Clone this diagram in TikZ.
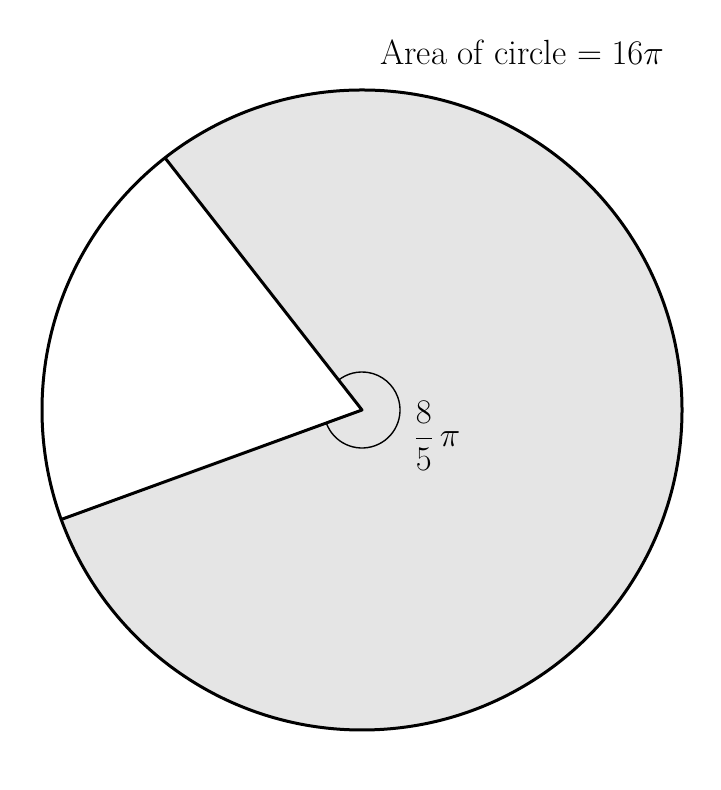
\documentclass[tikz,border=0pt]{standalone}
\usepackage{amsmath}
\usetikzlibrary{calc}
\begin{document}
\begin{tikzpicture}[x=0.5pt,y=0.5pt,
  outline/.style={line width=1.5pt,line join=round},
  anglearc/.style={line width=0.7pt},
  lbl/.style={font=\fontsize{17.5}{21}\selectfont,inner sep=0pt}]
\useasboundingbox (0,0) rectangle (720,790);
\coordinate (O) at (362,380);
\coordinate (A) at ($(O)+(128:320)$);
\coordinate (B) at ($(O)+(200:320)$);
\fill[gray!20] (O) -- (B) arc[start angle=200,end angle=488,radius=320] -- cycle;
\draw[anglearc] ($(O)+(200:38)$) arc[start angle=200,end angle=488,radius=38];
\draw[outline] (O) circle[radius=320];
\draw[outline] (A) -- (O) -- (B);
\node[lbl] (ang) at (437,354) {$\dfrac{8}{5}\,\pi$};
\node[lbl] (title) at (522,738) {Area of circle $=16\pi$};
\end{tikzpicture}
\end{document}
